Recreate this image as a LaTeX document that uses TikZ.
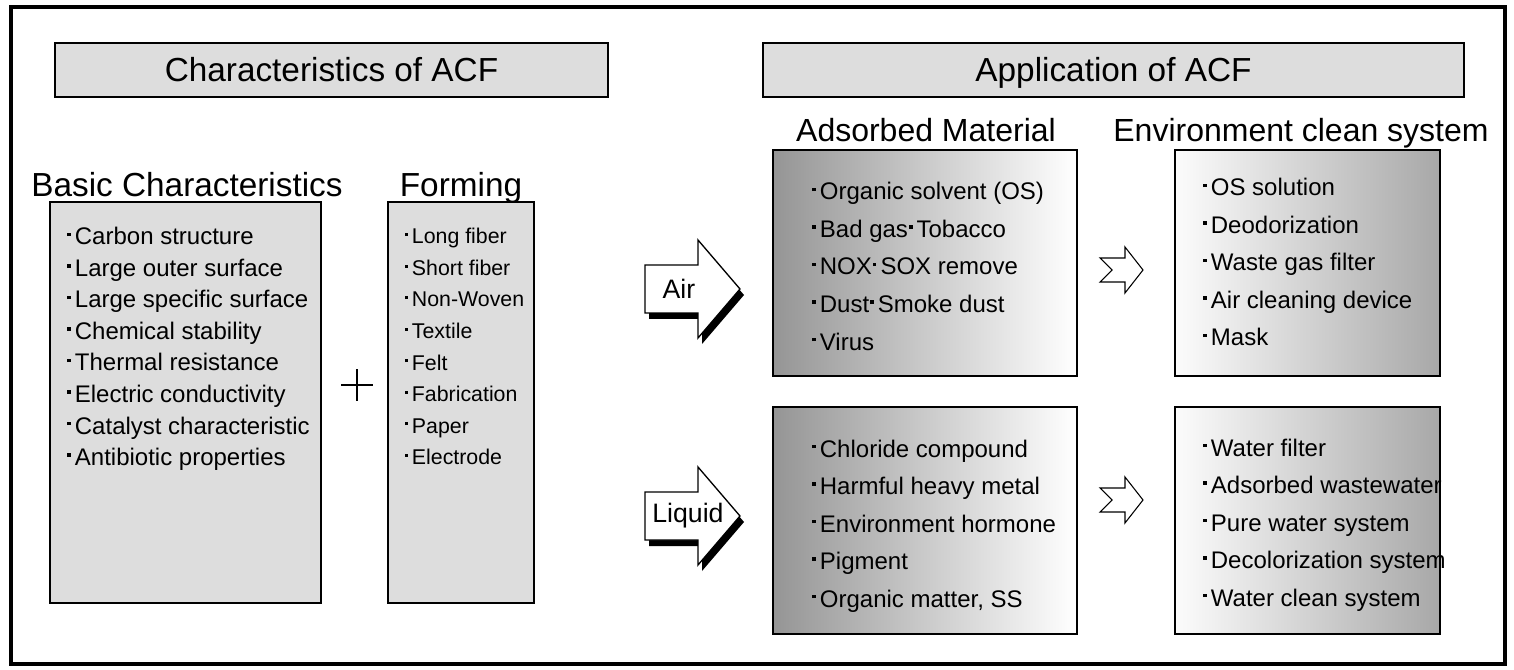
\documentclass[tikz,border=0pt]{standalone}
\usepackage{fontspec}
\setmainfont{Liberation Sans}
\usetikzlibrary{positioning}

\definecolor{boxgrey}{HTML}{DDDDDD}
\definecolor{adsdark}{HTML}{959595}
\definecolor{envlight}{HTML}{FCFCFC}
\definecolor{envdark}{HTML}{A8A8A8}

% the small raised dot in front of each entry
\newcommand{\kdot}{\hspace{0.05em}\rule[0.37em]{0.14em}{0.14em}\hspace{0.17em}}

\begin{document}
\begin{tikzpicture}[x=0.75pt, y=-0.75pt,
    every node/.style={inner sep=0pt},
    frame/.style={line width=2.3pt},
    greybox/.style={draw, line width=2.2pt, fill=boxgrey},
    adsbox/.style={draw, line width=2.2pt, left color=adsdark, right color=white},
    envbox/.style={draw, line width=2.2pt, left color=envlight, right color=envdark},
    title/.style={font=\fontsize{25}{29}\selectfont},
    subtitle/.style={font=\fontsize{24}{28}\selectfont},
    item/.style={font=\fontsize{18}{22}\selectfont, anchor=base west},
    smallitem/.style={font=\fontsize{16}{20}\selectfont, anchor=base west},
    bigarrow/.style={draw, line width=1pt, fill=white},
    smallarrow/.style={draw, line width=0.8pt, fill=white}]
    \useasboundingbox (0,0) rectangle (1514,670);
    \draw[frame] (11,7) rectangle (1505,664);

    % headers
    \node[greybox, title, text height=18pt, text depth=0pt, minimum width=553*0.75pt, minimum height=54*0.75pt] (charhead) at (331.5,70) {Characteristics of ACF};
    \node[greybox, title, text height=18pt, text depth=0pt, minimum width=701*0.75pt, minimum height=54*0.75pt] (apphead) at (1113.5,70) {Application of ACF};

    % characteristics
    \node[greybox, minimum width=271*0.75pt, minimum height=401*0.75pt] (basic) at (185.5,402.5) {};
    \node[greybox, minimum width=146*0.75pt, minimum height=401*0.75pt] (forming) at (461,402.5) {};
    \node[title, anchor=base] (basichead) at (187,197) {Basic Characteristics};
    \node[title, anchor=base] (forminghead) at (461,197) {Forming};

    \foreach \txt [count=\i] in {Carbon structure, Large outer surface, Large specific surface, Chemical stability,
        Thermal resistance, Electric conductivity, Catalyst characteristic, Antibiotic properties}
        \node[item] (basic-\i) at (66,{245+31.5*(\i-1)}) {\kdot\txt};
    \foreach \txt [count=\i] in {Long fiber, Short fiber, Non-Woven, Textile, Felt, Fabrication, Paper, Electrode}
        \node[smallitem] (forming-\i) at (404,{244+31.5*(\i-1)}) {\kdot\txt};

    \draw[line width=1.5pt] (341,385) -- (373,385) (357,369) -- (357,401);

    % application
    \node[adsbox, minimum width=304*0.75pt, minimum height=226*0.75pt] (adsair) at (925,263) {};
    \node[envbox, minimum width=265*0.75pt, minimum height=226*0.75pt] (envair) at (1307.5,263) {};
    \node[adsbox, minimum width=304*0.75pt, minimum height=227*0.75pt] (adsliq) at (925,520.5) {};
    \node[envbox, minimum width=265*0.75pt, minimum height=227*0.75pt] (envliq) at (1307.5,520.5) {};
    \node[subtitle, anchor=base] (adshead) at (926,142) {Adsorbed Material};
    \node[subtitle, anchor=base] (envhead) at (1301,142) {Environment clean system};

    \foreach \txt [count=\i] in {Organic solvent (OS), Bad gas\kdot Tobacco, NOX\kdot SOX remove, Dust\kdot Smoke dust, Virus}
        \node[item] (adsair-\i) at (811,{200+37.5*(\i-1)}) {\kdot\txt};
    \foreach \txt [count=\i] in {OS solution, Deodorization, Waste gas filter, Air cleaning device, Mask}
        \node[item] (envair-\i) at (1202,{196+37.5*(\i-1)}) {\kdot\txt};
    \foreach \txt [count=\i] in {Chloride compound, Harmful heavy metal, Environment hormone, Pigment, {Organic matter, SS}}
        \node[item] (adsliq-\i) at (811,{457+37.5*(\i-1)}) {\kdot\txt};
    \foreach \txt [count=\i] in {Water filter, Adsorbed wastewater, Pure water system, Decolorization system, Water clean system}
        \node[item] (envliq-\i) at (1202,{456+37.5*(\i-1)}) {\kdot\txt};

    % big arrows with shadow
    \foreach \name/\yc/\lbl/\lx in {air/289/Air/679, liquid/516/Liquid/688} {
        \fill[shift={(4,6)}] (645,\yc-24) -- (698,\yc-24) -- (698,\yc-49) -- (740,\yc) -- (698,\yc+49) -- (698,\yc+24) -- (645,\yc+24) -- cycle;
        \draw[bigarrow] (645,\yc-24) -- (698,\yc-24) -- (698,\yc-49) -- (740,\yc) -- (698,\yc+49) -- (698,\yc+24) -- (645,\yc+24) -- cycle;
        \node[font=\fontsize{20}{24}\selectfont] (\name) at (\lx,\yc) {\lbl};
    }

    % small notched arrows
    \foreach \yc in {270,500}
        \draw[smallarrow] (1100,\yc-12) -- (1125,\yc-12) -- (1125,\yc-23) -- (1143,\yc) -- (1125,\yc+23) -- (1125,\yc+12) -- (1100,\yc+12) -- (1112,\yc) -- cycle;
\end{tikzpicture}
\end{document}
